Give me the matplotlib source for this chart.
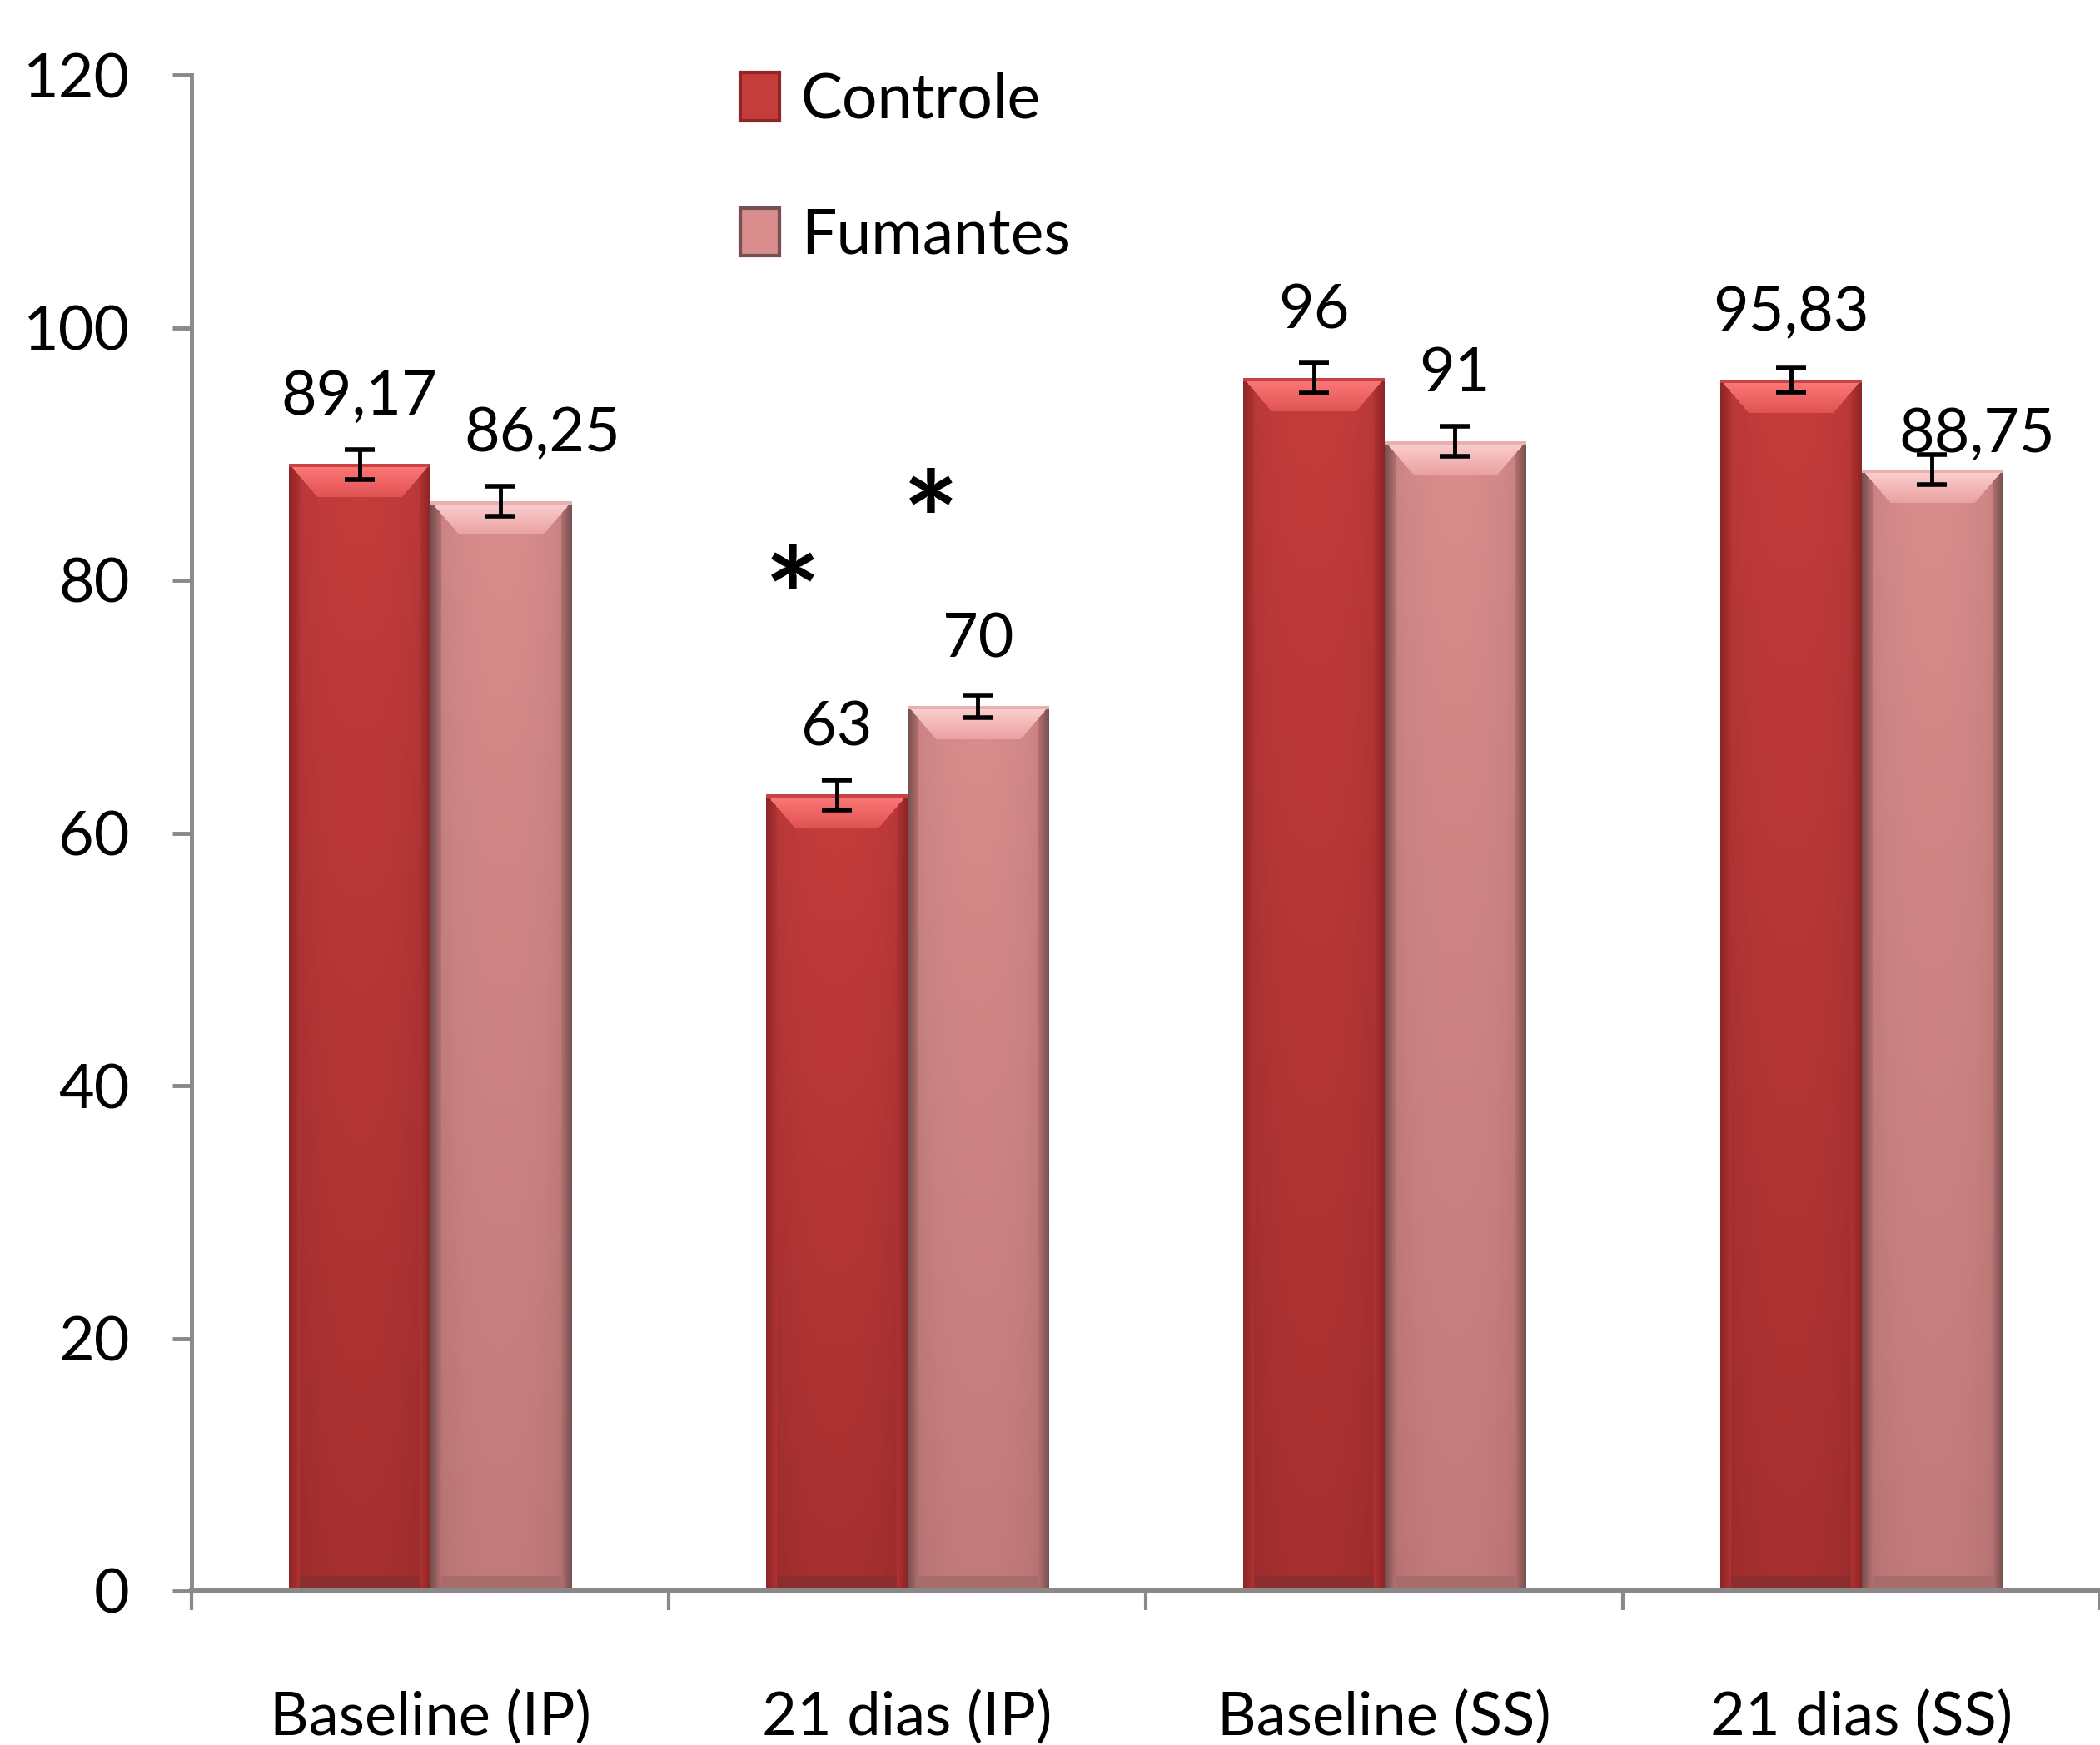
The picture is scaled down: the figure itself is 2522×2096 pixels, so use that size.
import numpy as np
import matplotlib
matplotlib.use('Agg')
import matplotlib.pyplot as plt
from matplotlib import font_manager
from matplotlib.patches import Patch
from matplotlib.colors import to_rgb

categories = ['Baseline (IP)', '21 dias (IP)', 'Baseline (SS)', '21 dias (SS)']
controle = [89.17, 63, 96, 95.83]
fumantes = [86.25, 70, 91, 88.75]
controle_err = [1.2, 1.2, 1.2, 0.95]
fumantes_err = [1.2, 0.9, 1.2, 1.2]

# significance marks (x in category units, y in axis units)
star_x = [0.76, 1.05]
star_y = [81, 87]

names = {f.name for f in font_manager.fontManager.ttflist}
main_font = 'Lato' if 'Lato' in names else 'DejaVu Sans'
plt.rcParams['font.family'] = [main_font, 'DejaVu Sans']

GRAY = '#898989'

# colour sets: top face light/dark, body top/bottom, side outer/inner, bottom face
red_set = dict(rim='#c84444', top_light='#ff7a7a', top_dark='#e05252',
               body_top='#c43c3c', body_bot='#a62f2f',
               side_out='#8e2626', side_in='#b33333', bottom='#8c2e2e')
pink_set = dict(rim='#e8b0b0', top_light='#fcd2d2', top_dark='#eaa0a0',
                body_top='#d88c8c', body_bot='#c27a7a',
                side_out='#765050', side_in='#b87272', bottom='#a86c6c')


def bevel_image(h_px, w_px, cs, B=40, S=13):
    h_px = max(int(h_px), 2)
    w_px = max(int(w_px), 2)
    r = np.arange(h_px)[:, None] * np.ones((1, w_px))
    c = np.ones((h_px, 1)) * np.arange(w_px)[None, :]
    dt = r
    db = h_px - 1 - r
    dside = np.minimum(c, w_px - 1 - c)
    C = {k: np.array(to_rgb(v)) for k, v in cs.items()}

    t = (r / h_px)[..., None]
    img = C['body_top'] * (1 - t) + C['body_bot'] * t
    u = (c / (w_px - 1))[..., None]
    img = img * (1 - 0.10 * np.abs(2 * u - 1) ** 3)

    side = dside < S
    f = np.clip(dside / S, 0, 1)[..., None]
    side_col = C['side_out'] * (1 - f) + C['side_in'] * f
    img = np.where(side[..., None], side_col, img)

    top = (dt < B) & (dside > dt * 0.85)
    g = np.clip(dt / B, 0, 1)[..., None]
    top_col = C['top_light'] * (1 - g) + C['top_dark'] * g
    img = np.where(top[..., None], top_col, img)

    rim = dt < 4
    img = np.where(rim[..., None], C['rim'], img)

    bot = (db < 18) & (dside >= S)
    img = np.where(bot[..., None], C['bottom'], img)
    return np.clip(img, 0, 1)


W, H = 2522, 2096
fig = plt.figure(figsize=(W / 100, H / 100), dpi=100)
ax = fig.add_axes([230 / W, 1 - 1911 / H, (W - 230) / W, (1911 - 90) / H])

x = np.arange(len(categories))
bw = 0.296
off = 0.148

bars_c = ax.bar(x - off, controle, bw, color=red_set['body_top'], zorder=2)
bars_f = ax.bar(x + off, fumantes, bw, color=pink_set['body_top'], zorder=2)

ax.set_xlim(-0.5, 3.5)
ax.set_ylim(0, 120)

# paint bevelled look onto each bar
px_per_x = ax.transData.transform((1, 0))[0] - ax.transData.transform((0, 0))[0]
px_per_y = ax.transData.transform((0, 1))[1] - ax.transData.transform((0, 0))[1]
for bars, cs in [(bars_c, red_set), (bars_f, pink_set)]:
    for b in bars:
        x0, w, h = b.get_x(), b.get_width(), b.get_height()
        img = bevel_image(h * px_per_y, w * px_per_x, cs)
        ax.imshow(img, extent=(x0, x0 + w, 0, h), aspect='auto',
                  interpolation='bilinear', zorder=3)

ax.set_xlim(-0.5, 3.5)
ax.set_ylim(0, 120)

ax.errorbar(x - off, controle, yerr=controle_err, fmt='none', ecolor='black',
            elinewidth=3.5, capsize=13, capthick=4, zorder=5)
ax.errorbar(x + off, fumantes, yerr=fumantes_err, fmt='none', ecolor='black',
            elinewidth=3.5, capsize=13, capthick=4, zorder=5)

label_kw = dict(textcoords='offset points', ha='center', va='baseline',
                fontsize=53, color='black', zorder=6)
for xi, v in zip(x - off, controle):
    ax.annotate(f'{v:g}'.replace('.', ','), (xi, v), xytext=(0, 43), **label_kw)
fum_shift = {0: (36, 43), 3: (39, 15)}
for i, (xi, v) in enumerate(zip(x + off, fumantes)):
    dx, dy = fum_shift.get(i, (0, 43))
    ax.annotate(f'{v:g}'.replace('.', ','), (xi, v), xytext=(dx, dy), **label_kw)

# '*' glyph sits high in its box, so nudge it down onto the mark position
for sx, sy in zip(star_x, star_y):
    ax.annotate('*', (sx, sy), xytext=(0, -34), textcoords='offset points',
                ha='center', va='center', fontsize=115, fontweight='bold',
                color='black', zorder=6)

# axes styling
for s in ['top', 'right']:
    ax.spines[s].set_visible(False)
ax.spines['left'].set_color(GRAY)
ax.spines['left'].set_linewidth(3.5)
ax.spines['bottom'].set_color(GRAY)
ax.spines['bottom'].set_linewidth(4.3)
ax.spines['bottom'].set_zorder(4)

ax.set_yticks(np.arange(0, 121, 20))
ax.tick_params(axis='y', direction='out', length=16.5, width=3.5, color=GRAY,
               labelsize=53, pad=37)
ax.set_xticks(x)
ax.set_xticklabels(categories, fontsize=52)
ax.set_xticks(np.arange(-0.5, 3.6, 1), minor=True)
ax.tick_params(axis='x', which='major', length=0, pad=86)
ax.tick_params(axis='x', which='minor', direction='out', length=16.5,
               width=3, color=GRAY)

handles = [Patch(facecolor=red_set['body_top'], edgecolor=red_set['side_out'], linewidth=3),
           Patch(facecolor=pink_set['body_top'], edgecolor=pink_set['side_out'], linewidth=3)]
fig.legend(handles, ['Controle', 'Fumantes'], loc='upper left',
           bbox_to_anchor=(889 / W, 1 - 86 / H), frameon=False, fontsize=54,
           handlelength=0.62, handleheight=0.8, handletextpad=0.35,
           labelspacing=1.25, borderpad=0, borderaxespad=0)

fig.savefig('out.png', dpi=100)
